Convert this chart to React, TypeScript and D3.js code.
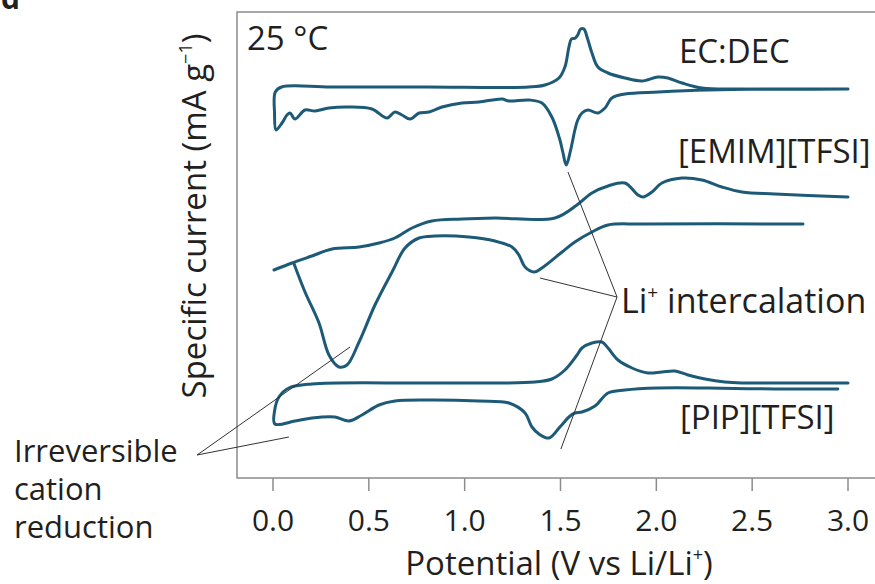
import React from 'react';
import * as d3 from 'd3';

// potential (V vs Li/Li+) and specific current (offset, a.u.)
const ecdecV = [3.0, 2.62, 2.27, 2.01, 1.836, 1.768, 1.732, 1.695, 1.643, 1.612, 1.59, 1.575, 1.553, 1.53, 1.512, 1.497, 1.455, 1.403, 1.335, 1.231, 1.195, 1.075, 0.986, 0.882, 0.814, 0.762, 0.715, 0.673, 0.636, 0.595, 0.516, 0.396, 0.292, 0.219, 0.167, 0.115, 0.089, 0.073, 0.047, 0.016, 0.008, 0.012, 0.045, 0.3, 0.8, 1.335, 1.419, 1.492, 1.523, 1.544, 1.557, 1.578, 1.59, 1.605, 1.622, 1.64, 1.664, 1.695, 1.748, 1.836, 1.925, 2.008, 2.06, 2.134, 2.238, 2.447, 3.0];
const ecdecI = [389, 389, 388, 386, 384, 380, 370, 365, 368, 365, 358, 348, 328, 313, 326, 338, 361, 375, 378, 377, 379, 376, 375, 371, 366, 365, 359, 363, 366, 360, 369, 371, 370, 367, 368, 359, 365, 363, 355, 348, 365, 386, 391, 391, 391, 391, 393, 400, 411, 431, 439, 440, 443, 449, 449, 440, 425, 411, 405, 400, 397, 401, 400, 395, 390, 389, 389];

// EMIM: cathodic sweep (3 V -> 0 V) and anodic sweep drawn as two branches
const emimCathV = [2.765, 1.925, 1.748, 1.664, 1.575, 1.508, 1.403, 1.362, 1.315, 1.283, 1.247, 1.158, 1.022, 0.845, 0.762, 0.689, 0.621, 0.532, 0.449, 0.386, 0.344, 0.292, 0.24, 0.167, 0.11];
const emimCathI = [254, 254, 253, 246, 236, 226, 210, 206, 211, 223, 231, 237, 241, 242, 240, 230, 206, 173, 136, 113, 111, 123, 155, 186, 214];
const emimAnodV = [0.005, 0.099, 0.203, 0.308, 0.449, 0.553, 0.636, 0.725, 0.829, 0.986, 1.158, 1.471, 1.586, 1.664, 1.748, 1.836, 1.904, 1.93, 1.977, 2.029, 2.134, 2.238, 2.342, 2.447, 2.619, 3.0];
const emimAnodI = [208, 215, 222, 229, 231, 235, 240, 250, 257, 259, 260, 260, 273, 285, 292, 295, 283, 281, 286, 295, 300, 298, 291, 286, 284, 281];

const pipV = [2.947, 2.619, 2.269, 2.008, 1.836, 1.748, 1.68, 1.612, 1.575, 1.544, 1.497, 1.44, 1.388, 1.351, 1.315, 1.231, 1.075, 0.814, 0.636, 0.553, 0.464, 0.396, 0.323, 0.203, 0.115, 0.01, 0.009, 0.031, 0.083, 0.203, 0.814, 1.367, 1.455, 1.523, 1.586, 1.612, 1.664, 1.716, 1.748, 1.8, 1.873, 1.956, 2.029, 2.097, 2.165, 2.254, 2.358, 2.447, 2.619, 3.0];
const pipI = [89, 89, 90, 90, 88, 85, 72, 66, 65, 61, 51, 40, 44, 51, 65, 75, 77, 78, 77, 73, 63, 57, 61, 60, 57, 54, 68, 81, 90, 94, 95, 96, 99, 108, 123, 130, 135, 136, 130, 118, 110, 105, 106, 107, 103, 99, 96, 95, 95, 95];

const xTicks = [0, 0.5, 1.0, 1.5, 2.0, 2.5, 3.0];

// annotation leader lines, in data units
const liHub = [1.795, 181];
const liEnds = [[1.539, 306], [1.393, 200], [1.502, 29]];
const irrHub = [-0.396, 23];
const irrEnds = [[0.402, 131], [0.083, 41]];
const irrLines = ['Irreversible', 'cation', 'reduction'];

const FONT = "'Open Sans', sans-serif";
const CURVE = '#1d5a78';
const INK = '#231f20';

const toPts = (v: number[], i: number[]) => v.map((x, k) => [x, i[k]] as [number, number]);

export default function App() {
  const x = d3.scaleLinear().domain([0, 3]).range([273, 848]);
  const y = d3.scaleLinear().domain([0, 466]).range([478, 12]);
  const line = d3.line<[number, number]>()
    .x(d => x(d[0]))
    .y(d => y(d[1]))
    .curve(d3.curveCatmullRom.alpha(0.5));

  const series = [
    toPts(ecdecV, ecdecI),
    toPts(emimCathV, emimCathI),
    toPts(emimAnodV, emimAnodI),
    toPts(pipV, pipI),
  ];
  const frameLeft = 237;

  return (
    <div style={{ position: 'fixed', left: 0, top: 0 }}>
      <svg width={875} height={584} style={{ display: 'block', background: '#fff' }} fontFamily={FONT}>
        <text x={1} y={9} fontSize={30} fontWeight="bold" fill={INK}>d</text>

        {/* frame */}
        <path d={`M890,${y(466)}H${frameLeft}V${y(0)}H890`} fill="none" stroke="#8c8c8c" strokeWidth={1.5} />
        {xTicks.map(t => (
          <g key={t}>
            <line x1={x(t)} x2={x(t)} y1={y(0)} y2={y(0) + 13} stroke="#8c8c8c" strokeWidth={1.5} />
            <text x={x(t)} y={531} textAnchor="middle" fontSize={30} fill={INK}>{t.toFixed(1)}</text>
          </g>
        ))}

        {/* curves */}
        {series.map((s, k) => (
          <path key={k} d={line(s) || ''} fill="none" stroke={CURVE} strokeWidth={3} strokeLinejoin="round" strokeLinecap="round" />
        ))}

        {/* leader lines */}
        {liEnds.map((e, k) => (
          <line key={'li' + k} x1={x(liHub[0])} y1={y(liHub[1])} x2={x(e[0])} y2={y(e[1])} stroke="#333" strokeWidth={1} />
        ))}
        {irrEnds.map((e, k) => (
          <line key={'ir' + k} x1={x(irrHub[0])} y1={y(irrHub[1])} x2={x(e[0])} y2={y(e[1])} stroke="#333" strokeWidth={1} />
        ))}

        {/* labels */}
        <text x={247} y={50} fontSize={33} fill={INK}>25 °C</text>
        <text x={679} y={63} fontSize={33} fill={INK}>EC:DEC</text>
        <text x={678} y={163} fontSize={33} fill={INK}>[EMIM][TFSI]</text>
        <text x={680} y={429} fontSize={33} fill={INK}>[PIP][TFSI]</text>
        <text x={621} y={313} fontSize={34} fill={INK}>
          Li<tspan fontSize={19} dy={-14}>+</tspan><tspan dy={14}> intercalation</tspan>
        </text>
        {irrLines.map((s, k) => (
          <text key={s} x={14} y={462 + k * 38} fontSize={31} fill={INK}>{s}</text>
        ))}

        {/* axis titles */}
        <text x={559} y={575} textAnchor="middle" fontSize={33} fill={INK}>
          Potential (V vs Li/Li<tspan fontSize={18} dy={-14}>+</tspan><tspan dy={14}>)</tspan>
        </text>
        <text transform="translate(206,216) rotate(-90)" textAnchor="middle" fontSize={33} fill={INK}>
          Specific current (mA g<tspan fontSize={18} dy={-14}>−1</tspan><tspan dy={14}>)</tspan>
        </text>
      </svg>
    </div>
  );
}
